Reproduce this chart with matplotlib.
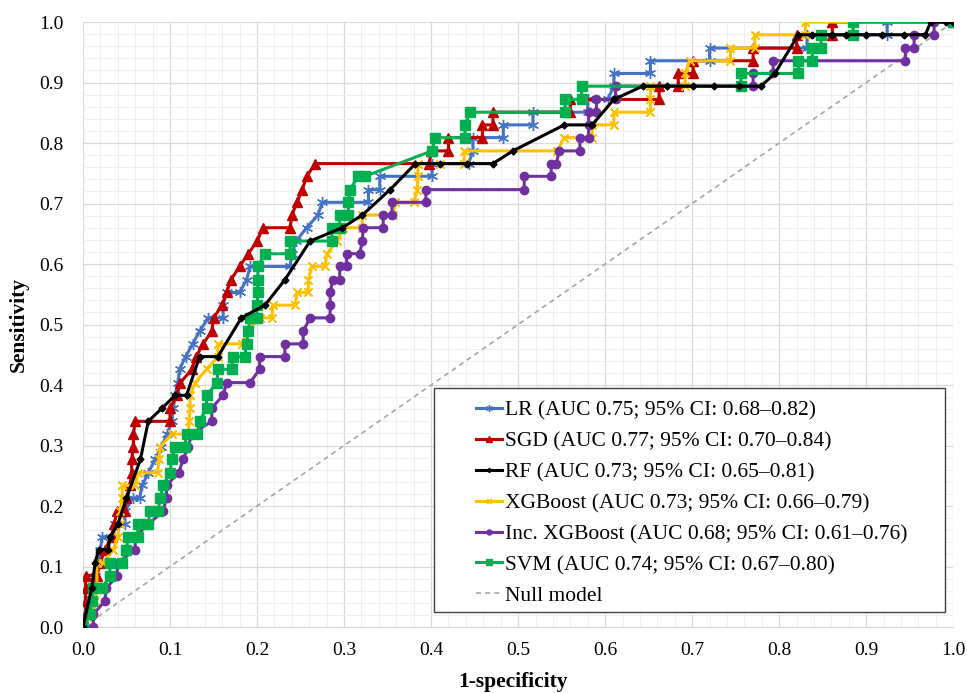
import numpy as np
import matplotlib
matplotlib.use("Agg")
import matplotlib.pyplot as plt
from matplotlib.patches import Rectangle
from matplotlib.ticker import MultipleLocator

plt.rcParams["font.family"] = ["Liberation Serif", "DejaVu Serif"]

# ROC points: (1-specificity, sensitivity)
lr_fpr = [0, 0.003, 0.01, 0.012, 0.014, 0.018, 0.02, 0.022, 0.035, 0.037, 0.048, 0.048, 0.057, 0.065,
          0.068, 0.075, 0.083, 0.09, 0.097, 0.102, 0.104, 0.106, 0.109, 0.111, 0.118, 0.126, 0.134,
          0.144, 0.161, 0.161, 0.165, 0.18, 0.188, 0.192, 0.238, 0.24, 0.245, 0.257, 0.27, 0.275,
          0.328, 0.328, 0.341, 0.341, 0.401, 0.401, 0.443, 0.448, 0.448, 0.483, 0.483, 0.517, 0.517,
          0.58, 0.58, 0.603, 0.61, 0.61, 0.652, 0.652, 0.72, 0.72, 0.832, 0.832, 0.924, 0.924, 1.0]
lr_tpr = [0, 0.021, 0.043, 0.064, 0.085, 0.106, 0.128, 0.149, 0.149, 0.17, 0.17, 0.191, 0.213, 0.213,
          0.234, 0.255, 0.277, 0.298, 0.319, 0.34, 0.362, 0.383, 0.404, 0.426, 0.447, 0.468, 0.489,
          0.511, 0.511, 0.532, 0.553, 0.553, 0.574, 0.596, 0.596, 0.617, 0.638, 0.66, 0.681, 0.702,
          0.702, 0.723, 0.723, 0.745, 0.745, 0.766, 0.766, 0.787, 0.809, 0.809, 0.83, 0.83, 0.851,
          0.851, 0.872, 0.872, 0.894, 0.915, 0.915, 0.936, 0.936, 0.957, 0.957, 0.979, 0.979, 1.0, 1.0]

sgd_fpr = [0, 0.003, 0.003, 0.003, 0.003, 0.016, 0.02, 0.025, 0.033, 0.036, 0.039, 0.048, 0.05, 0.054,
           0.056, 0.056, 0.058, 0.058, 0.06, 0.1, 0.1, 0.108, 0.112, 0.125, 0.13, 0.138, 0.148, 0.15,
           0.16, 0.165, 0.17, 0.18, 0.19, 0.2, 0.207, 0.238, 0.24, 0.246, 0.252, 0.257, 0.267, 0.398,
           0.4, 0.42, 0.42, 0.459, 0.459, 0.471, 0.471, 0.56, 0.56, 0.662, 0.662, 0.684, 0.684, 0.701,
           0.701, 0.77, 0.77, 0.82, 0.82, 0.861, 0.861, 1.0]
sgd_tpr = [0, 0.021, 0.043, 0.064, 0.085, 0.085, 0.106, 0.128, 0.149, 0.17, 0.191, 0.191, 0.213, 0.234,
           0.255, 0.277, 0.298, 0.319, 0.34, 0.34, 0.362, 0.383, 0.404, 0.426, 0.447, 0.468, 0.489,
           0.511, 0.532, 0.553, 0.574, 0.596, 0.617, 0.638, 0.66, 0.66, 0.681, 0.702, 0.723, 0.745,
           0.766, 0.766, 0.787, 0.787, 0.809, 0.809, 0.83, 0.83, 0.851, 0.851, 0.872, 0.872, 0.894,
           0.894, 0.915, 0.915, 0.936, 0.936, 0.957, 0.957, 0.979, 0.979, 1.0, 1.0]

rf_fpr = [0, 0.01, 0.014, 0.018, 0.029, 0.031, 0.04, 0.05, 0.066, 0.075, 0.091, 0.106, 0.119, 0.134,
          0.155, 0.182, 0.209, 0.232, 0.261, 0.298, 0.321, 0.353, 0.382, 0.41, 0.441, 0.471, 0.494,
          0.553, 0.585, 0.61, 0.643, 0.671, 0.701, 0.725, 0.754, 0.779, 0.795, 0.822, 0.838, 0.861,
          0.877, 0.9, 0.918, 0.943, 0.968, 0.974, 0.992, 1.0]
rf_tpr = [0, 0.064, 0.106, 0.128, 0.128, 0.149, 0.17, 0.213, 0.277, 0.34, 0.362, 0.383, 0.383, 0.447,
          0.447, 0.511, 0.532, 0.574, 0.638, 0.66, 0.681, 0.723, 0.766, 0.766, 0.766, 0.766, 0.787,
          0.83, 0.83, 0.872, 0.894, 0.894, 0.894, 0.894, 0.894, 0.894, 0.915, 0.979, 0.979, 0.979,
          0.979, 0.979, 0.979, 0.979, 0.979, 1.0, 1.0, 1.0]

xgb_fpr = [0, 0.012, 0.014, 0.016, 0.016, 0.023, 0.035, 0.04, 0.042, 0.043, 0.045, 0.045, 0.06, 0.063,
           0.086, 0.087, 0.089, 0.102, 0.121, 0.122, 0.123, 0.123, 0.129, 0.142, 0.155, 0.155, 0.183,
           0.188, 0.203, 0.217, 0.218, 0.244, 0.246, 0.259, 0.259, 0.263, 0.278, 0.28, 0.292, 0.299,
           0.321, 0.321, 0.356, 0.359, 0.38, 0.384, 0.385, 0.385, 0.41, 0.438, 0.438, 0.545, 0.553,
           0.585, 0.585, 0.61, 0.61, 0.652, 0.652, 0.652, 0.692, 0.692, 0.697, 0.744, 0.744, 0.772,
           0.772, 0.83, 0.83, 1.0]
xgb_tpr = [0, 0.021, 0.043, 0.064, 0.106, 0.106, 0.128, 0.149, 0.17, 0.191, 0.213, 0.234, 0.234, 0.255,
           0.255, 0.277, 0.298, 0.319, 0.319, 0.34, 0.362, 0.383, 0.404, 0.426, 0.447, 0.468, 0.468,
           0.489, 0.511, 0.511, 0.532, 0.532, 0.553, 0.553, 0.574, 0.596, 0.596, 0.617, 0.638, 0.66,
           0.66, 0.681, 0.681, 0.702, 0.702, 0.723, 0.745, 0.766, 0.766, 0.766, 0.787, 0.787, 0.809,
           0.809, 0.83, 0.83, 0.851, 0.851, 0.872, 0.894, 0.894, 0.915, 0.936, 0.936, 0.957, 0.957,
           0.979, 0.979, 1.0, 1.0]

inc_fpr = [0, 0.012, 0.012, 0.025, 0.027, 0.039, 0.04, 0.06, 0.06, 0.075, 0.092, 0.096, 0.096, 0.11,
           0.115, 0.121, 0.125, 0.148, 0.148, 0.161, 0.165, 0.192, 0.203, 0.203, 0.232, 0.232, 0.253,
           0.253, 0.261, 0.284, 0.284, 0.284, 0.287, 0.295, 0.295, 0.303, 0.303, 0.318, 0.321, 0.322,
           0.345, 0.345, 0.355, 0.355, 0.394, 0.394, 0.507, 0.507, 0.538, 0.538, 0.544, 0.547, 0.571,
           0.571, 0.581, 0.581, 0.581, 0.59, 0.59, 0.612, 0.612, 0.77, 0.77, 0.793, 0.793, 0.945,
           0.945, 0.955, 0.955, 0.978, 0.978, 1.0]
inc_tpr = [0, 0.0, 0.021, 0.043, 0.064, 0.085, 0.106, 0.128, 0.149, 0.17, 0.191, 0.213, 0.234, 0.255,
           0.277, 0.298, 0.319, 0.34, 0.362, 0.383, 0.404, 0.404, 0.426, 0.447, 0.447, 0.468, 0.468,
           0.489, 0.511, 0.511, 0.532, 0.553, 0.574, 0.574, 0.596, 0.596, 0.617, 0.617, 0.638, 0.66,
           0.66, 0.681, 0.681, 0.702, 0.702, 0.723, 0.723, 0.745, 0.745, 0.766, 0.766, 0.787, 0.787,
           0.809, 0.809, 0.83, 0.851, 0.851, 0.872, 0.872, 0.894, 0.894, 0.915, 0.915, 0.936, 0.936,
           0.957, 0.957, 0.979, 0.979, 1.0, 1.0]

svm_fpr = [0, 0.008, 0.01, 0.012, 0.022, 0.031, 0.031, 0.045, 0.05, 0.052, 0.063, 0.063, 0.075, 0.077,
           0.086, 0.089, 0.092, 0.1, 0.102, 0.106, 0.117, 0.119, 0.131, 0.134, 0.142, 0.142, 0.154,
           0.155, 0.171, 0.172, 0.186, 0.188, 0.19, 0.192, 0.2, 0.2, 0.201, 0.201, 0.201, 0.209, 0.238,
           0.238, 0.286, 0.286, 0.295, 0.295, 0.305, 0.305, 0.307, 0.316, 0.324, 0.401, 0.405, 0.439,
           0.439, 0.445, 0.554, 0.554, 0.573, 0.573, 0.756, 0.756, 0.822, 0.822, 0.838, 0.838, 0.848,
           0.848, 0.885, 0.885, 1.0]
svm_tpr = [0, 0.021, 0.043, 0.064, 0.064, 0.085, 0.106, 0.106, 0.128, 0.149, 0.149, 0.17, 0.17, 0.191,
           0.191, 0.213, 0.234, 0.255, 0.277, 0.298, 0.298, 0.319, 0.319, 0.34, 0.362, 0.383, 0.404,
           0.426, 0.426, 0.447, 0.447, 0.468, 0.489, 0.511, 0.511, 0.532, 0.553, 0.574, 0.596, 0.617,
           0.617, 0.638, 0.638, 0.66, 0.66, 0.681, 0.681, 0.702, 0.723, 0.745, 0.745, 0.787, 0.809,
           0.809, 0.83, 0.851, 0.851, 0.872, 0.872, 0.894, 0.894, 0.915, 0.915, 0.936, 0.936, 0.957,
           0.957, 0.979, 0.979, 1.0, 1.0]

labels = ["LR (AUC 0.75; 95% CI: 0.68\u20130.82)",
          "SGD (AUC 0.77; 95% CI: 0.70\u20130.84)",
          "RF (AUC 0.73; 95% CI: 0.65\u20130.81)",
          "XGBoost (AUC 0.73; 95% CI: 0.66\u20130.79)",
          "Inc. XGBoost (AUC 0.68; 95% CI: 0.61\u20130.76)",
          "SVM (AUC 0.74; 95% CI: 0.67\u20130.80)",
          "Null model"]

fig = plt.figure(figsize=(9.67, 6.93), dpi=100)
ax = fig.add_axes([0.0858, 0.0952, 0.9, 0.873])

ax.set_xlim(0, 1)
ax.set_ylim(0, 1)
ax.xaxis.set_major_locator(MultipleLocator(0.1))
ax.yaxis.set_major_locator(MultipleLocator(0.1))
ax.xaxis.set_minor_locator(MultipleLocator(0.02))
ax.yaxis.set_minor_locator(MultipleLocator(0.02))
ax.grid(which="major", color="#d9d9d9", lw=0.9)
ax.grid(which="minor", color="#efefef", lw=0.7)
ax.set_axisbelow(True)
for s in ax.spines.values():
    s.set_visible(False)
ax.spines["bottom"].set_visible(True)
ax.spines["bottom"].set_color("#d9d9d9")
ax.tick_params(which="both", length=0, labelsize=14)
ax.tick_params(axis="y", pad=14)
ax.tick_params(axis="x", pad=11)
ax.xaxis.set_major_formatter(plt.FuncFormatter(lambda v, p: f"{v:.1f}"))
ax.yaxis.set_major_formatter(plt.FuncFormatter(lambda v, p: f"{v:.1f}"))

lw = 2.2
h_null, = ax.plot([0, 1], [0, 1], ls=(0, (3, 2.5)), color="#a6a6a6", lw=1.2, zorder=2)
h_lr, = ax.plot(lr_fpr, lr_tpr, color="#4472C4", lw=lw, marker=(6, 2, 0), ms=8, mew=1.0, zorder=3)
h_sgd, = ax.plot(sgd_fpr, sgd_tpr, color="#C00000", lw=lw, marker="^", ms=6.5, zorder=4)
h_xgb, = ax.plot(xgb_fpr, xgb_tpr, color="#FFC000", lw=lw, marker=(4, 2, 45), ms=8, mew=1.0, zorder=5)
h_inc, = ax.plot(inc_fpr, inc_tpr, color="#7030A0", lw=lw, marker="o", ms=6, zorder=6)
h_svm, = ax.plot(svm_fpr, svm_tpr, color="#00B050", lw=lw, marker="s", ms=6.5, zorder=7)
h_rf, = ax.plot(rf_fpr, rf_tpr, color="#000000", lw=lw, marker="D", ms=3.5, zorder=8)

ax.set_xlabel("1-specificity", fontsize=15.5, fontweight="bold")
ax.set_ylabel("Sensitivity", fontsize=15.5, fontweight="bold")
ax.xaxis.set_label_coords(0.494, -0.074)
ax.yaxis.set_label_coords(-0.062, 0.5)

# legend box drawn separately so it can be wider than its entries
ax.add_patch(Rectangle((0.403, 0.025), 0.588, 0.37, transform=ax.transAxes, fill=True,
                       facecolor="white", edgecolor="#404040", lw=1.0, zorder=20))
leg = ax.legend([h_lr, h_sgd, h_rf, h_xgb, h_inc, h_svm, h_null], labels,
                loc="upper left", bbox_to_anchor=(0.452, 0.374), frameon=False,
                fontsize=15.5, handlelength=1.2, handletextpad=0.15, labelspacing=0.5,
                borderpad=0, borderaxespad=0, markerscale=0.6)
leg.set_zorder(21)

fig.savefig("out.png", dpi=100)
